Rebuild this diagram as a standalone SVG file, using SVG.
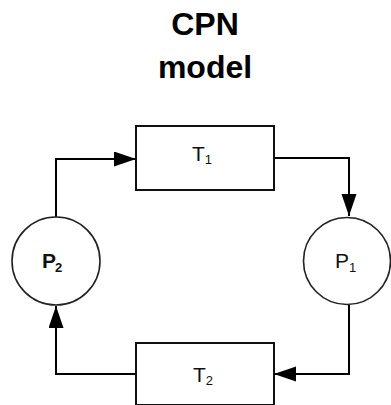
<svg xmlns="http://www.w3.org/2000/svg" width="391" height="405" viewBox="0 0 391 405">
<style>
.title{font-family:"Liberation Sans",Arial,sans-serif;font-weight:bold;font-size:32px;fill:#000;text-anchor:middle}
.lbl{font-family:"Liberation Sans",Arial,sans-serif;font-size:21px;fill:#111}
.sub{font-size:13px}
.box{fill:#fff;stroke:#111;stroke-width:2}
.place{fill:#fff;stroke:#222;stroke-width:1.6}
.edge{fill:none;stroke:#000;stroke-width:2}
</style>
<defs>
<marker id="arr" markerUnits="userSpaceOnUse" markerWidth="24" markerHeight="16" refX="22" refY="7.5" orient="auto">
<path d="M0,0 L22,7.5 L0,15 z" fill="#000"/>
</marker>
</defs>
<rect width="391" height="405" fill="#fff"/>
<g id="title">
<text class="title" x="205" y="35">CPN</text>
<text class="title" x="205" y="78">model</text>
</g>
<g id="connectors">
<path class="edge" d="M56,217 V159 H136" marker-end="url(#arr)"/>
<path class="edge" d="M274,158 H349 V216" marker-end="url(#arr)"/>
<path class="edge" d="M349,305 V374 H274" marker-end="url(#arr)"/>
<path class="edge" d="M136,374 H56 V306" marker-end="url(#arr)"/>
</g>
<g id="T1">
<rect class="box" x="136" y="126" width="138" height="64"/>
<text class="lbl" x="192" y="161">T<tspan class="sub" dy="3">1</tspan></text>
</g>
<g id="T2">
<rect class="box" x="136" y="343" width="138" height="62"/>
<text class="lbl" x="193" y="382">T<tspan class="sub" dy="3">2</tspan></text>
</g>
<g id="P1">
<circle class="place" cx="347" cy="261" r="43.5"/>
<text class="lbl" x="335" y="268" font-size="22">P<tspan class="sub" dy="4">1</tspan></text>
</g>
<g id="P2">
<circle class="place" cx="56" cy="261" r="44"/>
<text class="lbl" x="42" y="268" font-size="22" font-weight="bold">P<tspan class="sub" dx="-1" dy="4">2</tspan></text>
</g>
</svg>
